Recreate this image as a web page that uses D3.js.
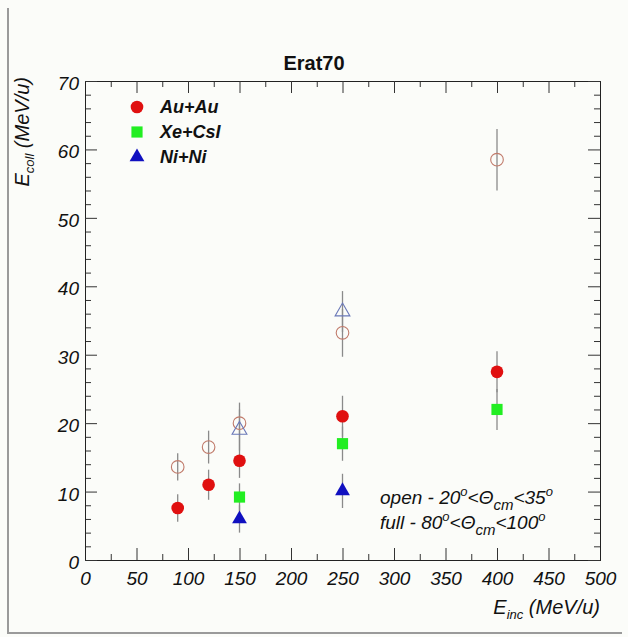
<!DOCTYPE html>
<html>
<head>
<meta charset="utf-8">
<script src="https://cdn.jsdelivr.net/npm/d3@7"></script>
<style>
  body { margin: 0; background: #fff; }
  text { font-family: "Liberation Sans", Arial, sans-serif; }
</style>
</head>
<body>
<svg id="chart" width="628" height="637"></svg>
<script>
// Au+Au, filled = full (80-100 deg), open = open (20-35 deg)
const auX = [90, 120, 150, 250, 400]
const auFull = [7.6, 11.0, 14.5, 21.0, 27.5]
const auFullErr = [2.0, 2.2, 2.5, 3.0, 3.0]
const auOpen = [13.6, 16.5, 20.0, 33.2, 58.5]
const auOpenErr = [2.0, 2.4, 3.0, 3.5, 4.5]

// Xe+CsI
const xeX = [150, 250, 400]
const xeFull = [9.2, 17.0, 22.0]
const xeFullErr = [2.0, 2.5, 3.0]

// Ni+Ni
const niX = [150, 250]
const niFull = [6.0, 10.1]
const niFullErr = [2.0, 2.5]
const niOpen = [19.0, 36.3]
const niOpenErr = [3.0, 3.0]

const xTicks = d3.range(0, 501, 50)
const yTicks = d3.range(0, 71, 10)

const margin = { left: 85, right: 28, top: 81, bottom: 77 }
const W = 628
const H = 637

const svg = d3.select('#chart')

svg.append('rect').attr('width', W).attr('height', H).attr('fill', '#fbfcf9')
// canvas bevel
svg.append('path')
  .attr('d', `M8,8 V${H - 4} H${W - 6}`)
  .attr('fill', 'none').attr('stroke', '#9a9a9a').attr('stroke-width', 2)

const x = d3.scaleLinear().domain([0, 500]).range([margin.left, W - margin.right])
const y = d3.scaleLinear().domain([0, 70]).range([H - margin.bottom, margin.top])

const g = svg.append('g')

// minor ticks
const minorX = d3.range(0, 501, 25).filter(v => v % 50 !== 0)
const minorY = d3.range(0, 71, 2).filter(v => v % 10 !== 0)

g.append('g').attr('transform', `translate(0,${y(0)})`)
  .call(d3.axisBottom(x).tickValues(minorX).tickSize(-6).tickFormat(''))
g.append('g').attr('transform', `translate(0,${y(70)})`)
  .call(d3.axisTop(x).tickValues(minorX).tickSize(-6).tickFormat(''))
g.append('g').attr('transform', `translate(${x(0)},0)`)
  .call(d3.axisLeft(y).tickValues(minorY).tickSize(-6).tickFormat(''))
g.append('g').attr('transform', `translate(${x(500)},0)`)
  .call(d3.axisRight(y).tickValues(minorY).tickSize(-6).tickFormat(''))

// major ticks + labels
g.append('g').attr('class', 'xaxis').attr('transform', `translate(0,${y(0)})`)
  .call(d3.axisBottom(x).tickValues(xTicks).tickSize(-12).tickPadding(9).tickSizeOuter(0))
g.append('g').attr('transform', `translate(0,${y(70)})`)
  .call(d3.axisTop(x).tickValues(xTicks).tickSize(-12).tickFormat('').tickSizeOuter(0))
g.append('g').attr('class', 'yaxis').attr('transform', `translate(${x(0)},0)`)
  .call(d3.axisLeft(y).tickValues(yTicks).tickSize(-12).tickPadding(6).tickSizeOuter(0))
g.append('g').attr('transform', `translate(${x(500)},0)`)
  .call(d3.axisRight(y).tickValues(yTicks).tickSize(-12).tickFormat('').tickSizeOuter(0))

g.selectAll('.domain').attr('stroke', '#222')
g.selectAll('.tick line').attr('stroke', '#333')
g.selectAll('.xaxis text, .yaxis text')
  .attr('font-size', 19).attr('font-style', 'italic').attr('fill', '#111')
  .style('font-family', '"Liberation Sans", Arial, sans-serif')
g.select('.xaxis').selectAll('.tick text').attr('dy', '0.85em')
g.select('.yaxis').selectAll('.tick text').attr('dy', '0.45em')

// title
svg.append('text')
  .attr('x', 314).attr('y', 70)
  .attr('text-anchor', 'middle')
  .attr('font-size', 20).attr('font-weight', 'bold')
  .attr('fill', '#111')
  .text('Erat70')

// axis titles
const xt = svg.append('text')
  .attr('x', x(500)).attr('y', 614)
  .attr('text-anchor', 'end')
  .attr('font-size', 20).attr('font-style', 'italic').attr('fill', '#111')
xt.append('tspan').text('E')
xt.append('tspan').attr('font-size', 13).attr('dy', 5).text('inc')
xt.append('tspan').attr('dy', -5).text(' (MeV/u)')

const yt = svg.append('text')
  .attr('transform', `translate(29,${y(70) - 4}) rotate(-90)`)
  .attr('text-anchor', 'end')
  .attr('font-size', 20).attr('font-style', 'italic').attr('fill', '#111')
yt.append('tspan').text('E')
yt.append('tspan').attr('font-size', 13).attr('dy', 5).text('coll')
yt.append('tspan').attr('dy', -5).text(' (MeV/u)')

// error bars
function errorBars (xs, ys, es) {
  g.append('g').selectAll('line')
    .data(xs.map((v, i) => ({ x: v, y: ys[i], e: es[i] })))
    .join('line')
    .attr('x1', d => x(d.x)).attr('x2', d => x(d.x))
    .attr('y1', d => y(d.y - d.e)).attr('y2', d => y(d.y + d.e))
    .attr('stroke', '#8a8a8a').attr('stroke-width', 1.3)
}

errorBars(auX, auOpen, auOpenErr)
errorBars(niX, niOpen, niOpenErr)
errorBars(auX, auFull, auFullErr)
errorBars(xeX, xeFull, xeFullErr)
errorBars(niX, niFull, niFullErr)

const circle = d3.symbol().type(d3.symbolCircle).size(125)
const square = d3.symbol().type(d3.symbolSquare).size(125)
const triangle = d3.symbol().type(d3.symbolTriangle).size(95)

function markers (xs, ys, sym, fill, stroke) {
  g.append('g').selectAll('path')
    .data(xs.map((v, i) => [v, ys[i]]))
    .join('path')
    .attr('transform', d => `translate(${x(d[0])},${y(d[1])})`)
    .attr('d', sym)
    .attr('fill', fill)
    .attr('stroke', stroke)
    .attr('stroke-width', stroke === 'none' ? 0 : 1.1)
}

markers(auX, auOpen, circle, 'none', '#c07a6a')
markers(niX, niOpen, triangle, 'none', '#6a78b8')
markers(auX, auFull, circle, '#e01010', 'none')
markers(xeX, xeFull, square, '#22ee22', 'none')
markers(niX, niFull, triangle, '#1010c0', 'none')

// legend
const legendNames = ['Au+Au', 'Xe+CsI', 'Ni+Ni']
const legendSyms = [circle, square, triangle]
const legendCols = ['#e01010', '#22ee22', '#1010c0']
const leg = svg.append('g')
legendNames.forEach((name, i) => {
  const ly = 107 + i * 25
  leg.append('path').attr('transform', `translate(137,${ly})`)
    .attr('d', legendSyms[i]).attr('fill', legendCols[i])
  leg.append('text').attr('x', 160).attr('y', ly + 6)
    .attr('font-size', 18).attr('font-weight', 'bold').attr('font-style', 'italic')
    .attr('fill', '#111').text(name)
})

// angular cut annotation
function cutLine (yy, label, lo, hi) {
  const t = svg.append('text').attr('x', 380).attr('y', yy)
    .attr('font-size', 19).attr('font-style', 'italic').attr('fill', '#111')
  t.append('tspan').text(label + ' - ' + lo)
  t.append('tspan').attr('font-size', 13).attr('dy', -8).text('o')
  t.append('tspan').attr('dy', 8).text('<\u0398')
  t.append('tspan').attr('font-size', 15).attr('dy', 6).text('cm')
  t.append('tspan').attr('dy', -6).text('<' + hi)
  t.append('tspan').attr('font-size', 13).attr('dy', -8).text('o')
}
cutLine(504, 'open', '20', '35')
cutLine(529, 'full', '80', '100')
</script>
</body>
</html>
